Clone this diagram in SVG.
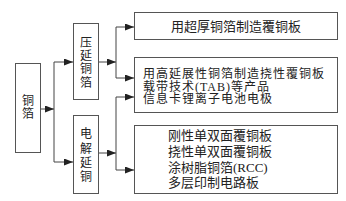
<svg xmlns="http://www.w3.org/2000/svg" width="346" height="201" viewBox="0 0 346 201">
<defs>
<marker id="arr" markerWidth="9" markerHeight="7" refX="9" refY="3.5" orient="auto" markerUnits="userSpaceOnUse">
<path d="M0,0 L9,3.5 L0,7 Z" fill="#222"/>
</marker>
<style>
.box{fill:#fff;stroke:#555;stroke-width:1}
.t{font-family:"Liberation Serif","Noto Sans CJK SC",serif;font-size:13px;fill:#222}
.v{font-size:12px}
.s{font-size:12px;letter-spacing:1px}
.c{text-anchor:middle}
.ln{fill:none;stroke:#444;stroke-width:1}
</style>
</defs>
<rect width="346" height="201" fill="#fff"/>
<g id="connectors">
<line class="ln" x1="40" y1="109" x2="54" y2="109" marker-end="url(#arr)"/>
<polyline class="ln" points="54,162 54,62"/>
<line class="ln" x1="54" y1="62" x2="73" y2="62" marker-end="url(#arr)"/>
<line class="ln" x1="54" y1="162" x2="73" y2="162" marker-end="url(#arr)"/>
<line class="ln" x1="98" y1="62" x2="116" y2="62" marker-end="url(#arr)"/>
<polyline class="ln" points="116,27 116,78"/>
<line class="ln" x1="116" y1="27" x2="134" y2="27" marker-end="url(#arr)"/>
<line class="ln" x1="116" y1="78" x2="134" y2="78" marker-end="url(#arr)"/>
<line class="ln" x1="98" y1="153" x2="116" y2="153" marker-end="url(#arr)"/>
<polyline class="ln" points="116,97 116,170"/>
<line class="ln" x1="116" y1="97" x2="134" y2="97" marker-end="url(#arr)"/>
<line class="ln" x1="116" y1="170" x2="134" y2="170" marker-end="url(#arr)"/>
</g>
<g id="n_tongbo">
<rect class="box" x="15.5" y="63.5" width="25" height="89"/>
<text class="t v c" x="28" y="104.5">铜</text>
<text class="t v c" x="28" y="118">箔</text>
</g>
<g id="n_yayan">
<rect class="box" x="73.5" y="23.5" width="25" height="76"/>
<text class="t v c" x="86" y="46.5">压</text>
<text class="t v c" x="86" y="60">延</text>
<text class="t v c" x="86" y="73">铜</text>
<text class="t v c" x="86" y="86.5">箔</text>
</g>
<g id="n_dianjie">
<rect class="box" x="73.5" y="115.5" width="25" height="78"/>
<text class="t v c" x="86" y="138">电</text>
<text class="t v c" x="86" y="152.5">解</text>
<text class="t v c" x="86" y="167">延</text>
<text class="t v c" x="86" y="181">铜</text>
</g>
<g id="n_app1">
<rect class="box" x="134.5" y="12.5" width="203" height="27"/>
<text class="t c" x="236" y="30.5">用超厚铜箔制造覆铜板</text>
</g>
<g id="n_app2">
<rect class="box" x="134.5" y="57.5" width="203" height="55"/>
<text class="t s" x="143" y="78">用高延展性铜箔制造挠性覆铜板</text>
<text class="t s" x="143" y="90.5">载带技术(TAB)等产品</text>
<text class="t s" x="143" y="103">信息卡锂离子电池电极</text>
</g>
<g id="n_app3">
<rect class="box" x="134.5" y="125.5" width="203" height="68"/>
<text class="t" x="168" y="140">刚性单双面覆铜板</text>
<text class="t" x="168" y="156">挠性单双面覆铜板</text>
<text class="t" x="168" y="171.5">涂树脂铜箔(RCC)</text>
<text class="t" x="168" y="187">多层印制电路板</text>
</g>
</svg>
